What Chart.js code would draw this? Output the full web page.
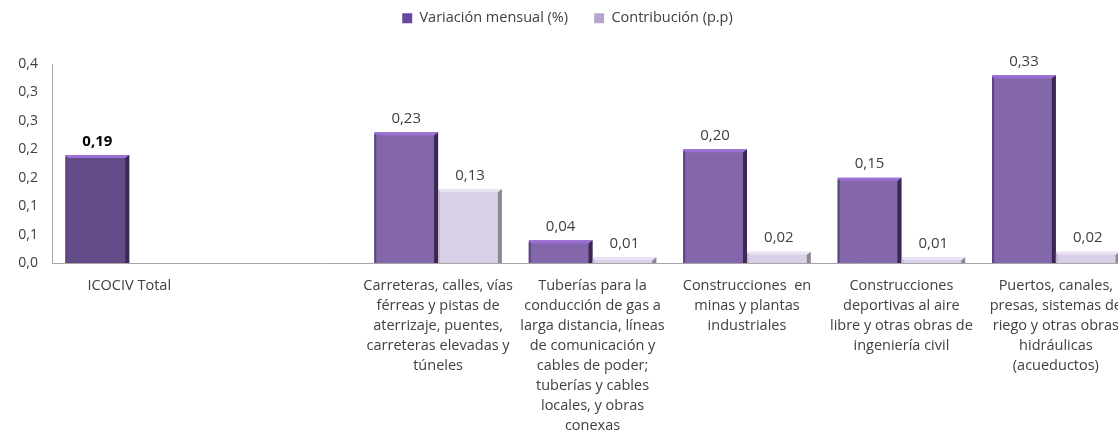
<!DOCTYPE html>
<html><head><meta charset="utf-8">
<script src="https://cdn.jsdelivr.net/npm/chart.js@4"></script>
<style>html,body{margin:0;padding:0;overflow:hidden;background:#fff;width:1118px;height:435px}</style>
</head><body>
<canvas id="c" width="1135" height="435"></canvas>
<script>
const categories = [
  ["ICOCIV Total"],
  [""],
  ["Carreteras, calles, vías","férreas y pistas de","aterrizaje, puentes,","carreteras elevadas y","túneles"],
  ["Tuberías para la","conducción de gas a","larga distancia, líneas","de comunicación y","cables de poder;","tuberías y cables","locales, y obras","conexas"],
  ["Construcciones  en","minas y plantas","industriales"],
  ["Construcciones","deportivas al aire","libre y otras obras de","ingeniería civil"],
  ["Puertos, canales,","presas, sistemas de","riego y otras obras","hidráulicas","(acueductos)"]
];
const variacionMensual = [0.19, null, 0.23, 0.04, 0.20, 0.15, 0.33];
const contribucion = [null, null, 0.13, 0.01, 0.02, 0.01, 0.02];
const seriesNames = ["Variación mensual (%)", "Contribución (p.p)"];
const yTicks = [0, 0.05, 0.10, 0.15, 0.20, 0.25, 0.30, 0.35];

const FONT = "'Open Sans', sans-serif";
const fmt = v => v.toFixed(2).replace('.', ',');
const fmt1 = v => (Math.round(v * 10 + 1e-9) / 10).toFixed(1).replace('.', ',');

const barStyle = {
  id: 'barStyle',
  afterDatasetsDraw(chart) {
    const ctx = chart.ctx;
    chart.data.datasets.forEach((ds, di) => {
      const meta = chart.getDatasetMeta(di);
      meta.data.forEach((bar, i) => {
        const v = ds.data[i];
        if (v == null) return;
        const left = bar.x - bar.width / 2, right = bar.x + bar.width / 2;
        const top = bar.y, base = bar.base;
        ctx.save();
        ctx.fillStyle = di === 0 ? '#3a2852' : '#8d8694';
        ctx.beginPath();
        ctx.moveTo(right - 4, top + 3);
        ctx.lineTo(right, top);
        ctx.lineTo(right, base);
        ctx.lineTo(right - 4, base);
        ctx.closePath();
        ctx.fill();
        ctx.fillStyle = di === 0 ? '#9b6fd6' : '#e9e2f2';
        ctx.beginPath();
        ctx.moveTo(left, top);
        ctx.lineTo(right, top);
        ctx.lineTo(right - 4, top + 3);
        ctx.lineTo(left + 2, top + 3);
        ctx.closePath();
        ctx.fill();
        ctx.fillStyle = di === 0 ? '#5c4480' : '#c4b8d4';
        ctx.fillRect(left, top + 2, 2, base - top - 2);
        const bold = (i === 0 && di === 0);
        ctx.font = (bold ? 'bold ' : '') + '15px ' + FONT;
        ctx.fillStyle = bold ? '#000000' : '#404040';
        ctx.textAlign = 'center';
        ctx.textBaseline = 'bottom';
        ctx.fillText(fmt(v), bar.x, top - 6);
        ctx.restore();
      });
    });
  }
};

const legendHeight = {
  id: 'legendHeight',
  beforeLayout(chart) {
    const lg = chart.legend;
    if (lg && !lg._patched) {
      const f = lg.fit.bind(lg);
      lg.fit = function () { f(); this.height = 64; };
      lg._patched = true;
    }
  }
};

new Chart(document.getElementById('c'), {
  type: 'bar',
  data: {
    labels: categories,
    datasets: [
      { label: seriesNames[0], data: variacionMensual,
        backgroundColor: variacionMensual.map((v, i) => i === 0 ? '#634b87' : '#8467ab'),
        borderWidth: 0 },
      { label: seriesNames[1], data: contribucion,
        backgroundColor: '#d9cfe7', borderWidth: 0 }
    ]
  },
  options: {
    responsive: false,
    animation: false,
    layout: { padding: 0 },
    plugins: {
      legend: {
        position: 'top',
        labels: {
          font: { family: FONT, size: 14.5 }, color: '#404040',
          boxWidth: 10, boxHeight: 10, padding: 11,
          generateLabels() {
            return [
              { text: seriesNames[0] + '    ', fillStyle: '#6a47a0', strokeStyle: '#6a47a0', lineWidth: 0, datasetIndex: 0, fontColor: '#404040' },
              { text: seriesNames[1], fillStyle: '#b6a6cc', strokeStyle: '#b6a6cc', lineWidth: 0, datasetIndex: 1, fontColor: '#404040' }
            ];
          }
        }
      },
      tooltip: { enabled: false }
    },
    datasets: { bar: { barPercentage: 1, categoryPercentage: 0.826 } },
    scales: {
      x: {
        grid: { display: false, drawTicks: false },
        border: { color: '#a6a6a6', width: 1 },
        ticks: { autoSkip: false, maxRotation: 0, minRotation: 0, color: '#404040',
          font: { family: FONT, size: 14.5, lineHeight: 1.38 }, padding: 13 },
        afterFit(s) { s.height = 172; }
      },
      y: {
        min: 0, max: 0.35,
        grid: { display: false, drawTicks: false },
        border: { color: '#a6a6a6', width: 1 },
        afterBuildTicks(s) { s.ticks = yTicks.map(v => ({ value: v })); },
        ticks: { color: '#404040', font: { family: FONT, size: 14 }, padding: 14,
          callback: v => fmt1(v) },
        afterFit(s) { s.width = 52; }
      }
    }
  },
  plugins: [barStyle, legendHeight]
});
</script>
</body></html>
